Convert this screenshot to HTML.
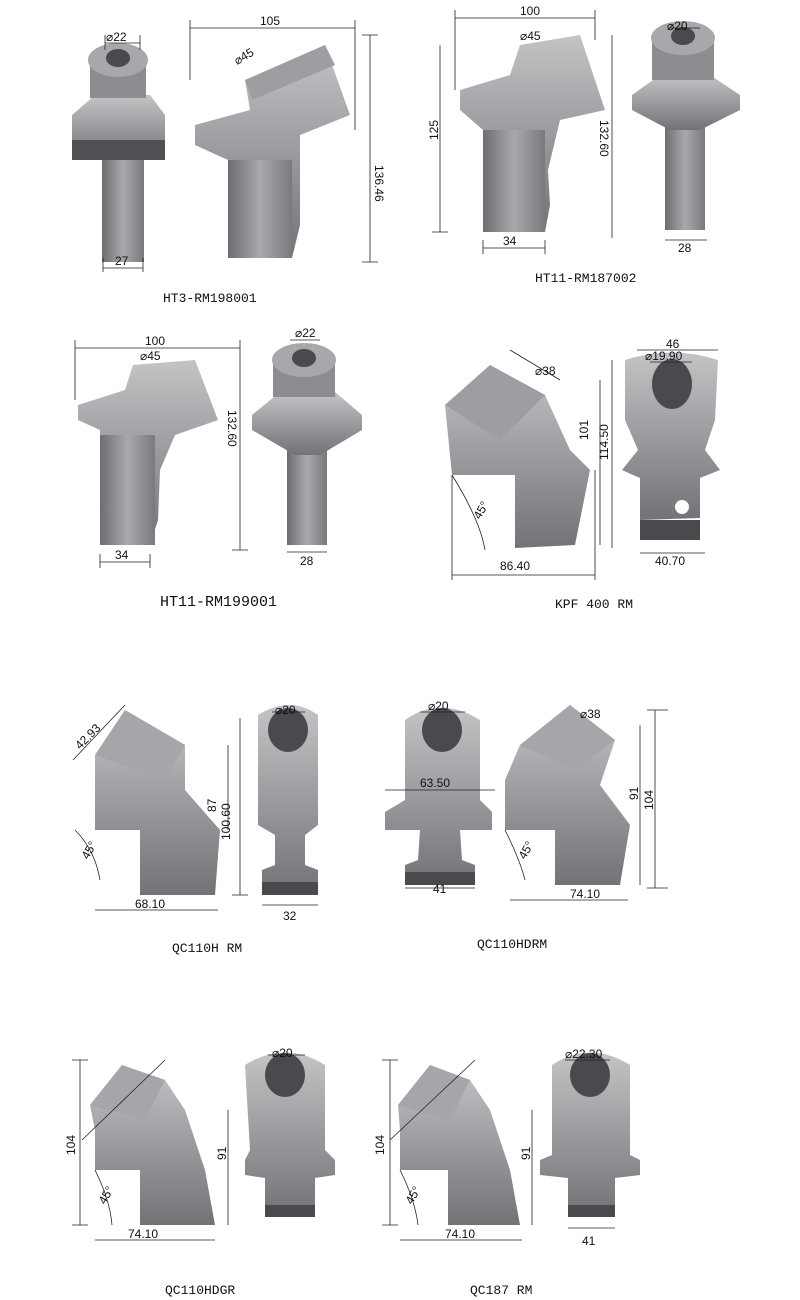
<!DOCTYPE html>
<html><head><meta charset="utf-8"><style>
body{margin:0;background:#fff}
svg{display:block}
text{font-family:"Liberation Sans",sans-serif;fill:#111}
.l{font-family:"Liberation Mono",monospace;font-size:13px}
.d{font-size:12px}
.dim{stroke:#222;stroke-width:0.8;fill:none}
</style></head><body>
<svg width="800" height="1300" viewBox="0 0 800 1300">
<defs>
<linearGradient id="g" x1="0" x2="1"><stop offset="0" stop-color="#6e6d72"/><stop offset=".5" stop-color="#a9a8ac"/><stop offset="1" stop-color="#7a797e"/></linearGradient>
<linearGradient id="gv" x1="0" y1="0" x2="0" y2="1"><stop offset="0" stop-color="#c4c3c6"/><stop offset="1" stop-color="#737277"/></linearGradient>
</defs>

<!-- HT3 front -->
<rect x="102" y="150" width="42" height="112" fill="url(#g)"/>
<path d="M72 115 L95 95 L150 95 L165 115 L165 160 L72 160Z" fill="url(#gv)"/>
<rect x="72" y="140" width="93" height="20" fill="#505055"/>
<rect x="90" y="62" width="56" height="36" fill="#8d8c91"/>
<ellipse cx="118" cy="60" rx="30" ry="17" fill="#a8a7ab"/>
<ellipse cx="118" cy="58" rx="12" ry="9" fill="#4a494e"/>
<path class="dim" d="M103 268H143M103 258V272M143 258V272M105 43H140M105 35V50M140 35V50"/>
<text class="d" x="115" y="265">27</text><text class="d" x="106" y="41">⌀22</text>
<text class="l" x="163" y="302">HT3-RM198001</text>

<!-- HT3 side -->
<path d="M195 125 L250 110 L245 80 L325 45 L350 115 L300 135 L300 225 L292 258 L228 258 L228 160 L195 145Z" fill="url(#gv)"/>
<path d="M245 80 L325 45 L335 65 L252 100Z" fill="#9e9da1"/>
<rect x="228" y="160" width="64" height="98" fill="url(#g)"/>
<path class="dim" d="M190 28H355M190 20V80M355 20V130M370 35V262M362 262H378M362 35H378"/>
<text class="d" x="260" y="25">105</text><text class="d" x="237" y="65" transform="rotate(-30 237 65)">⌀45</text>
<text class="d" x="375" y="165" transform="rotate(90 375 165)">136.46</text>

<!-- HT11-RM187002 side -->
<path d="M460 90 L510 75 L520 45 L580 35 L605 110 L560 120 L548 170 L550 205 L545 232 L483 232 L483 130 L460 110Z" fill="url(#gv)"/>
<rect x="483" y="130" width="62" height="102" fill="url(#g)"/>
<path class="dim" d="M455 18H595M455 10V90M595 10V40M440 45V232M432 232H448M612 35V238M483 248H545M483 240V254M545 240V254"/>
<text class="d" x="520" y="15">100</text><text class="d" x="520" y="40">⌀45</text>
<text class="d" x="438" y="140" transform="rotate(-90 438 140)">125</text>
<text class="d" x="600" y="120" transform="rotate(90 600 120)">132.60</text>
<text class="d" x="503" y="245">34</text>
<!-- front -->
<rect x="665" y="115" width="40" height="115" fill="url(#g)"/>
<path d="M632 95 L660 75 L710 75 L740 95 L740 110 L700 130 L670 130 L632 110Z" fill="url(#gv)"/>
<rect x="652" y="40" width="62" height="40" fill="#8d8c91"/>
<ellipse cx="683" cy="38" rx="32" ry="17" fill="#a8a7ab"/><ellipse cx="683" cy="36" rx="12" ry="9" fill="#4a494e"/>
<path class="dim" d="M665 240H707M670 28H700"/><text class="d" x="678" y="252">28</text><text class="d" x="667" y="30">⌀20</text>
<text class="l" x="535" y="282">HT11-RM187002</text>

<!-- HT11-RM199001 -->
<path d="M78 405 L125 390 L133 365 L195 360 L218 420 L175 435 L160 470 L158 520 L150 545 L100 545 L100 430 L78 420Z" fill="url(#gv)"/>
<rect x="100" y="435" width="55" height="110" fill="url(#g)"/>
<path class="dim" d="M75 348H240M75 340V400M240 340V420M240 360V550M232 550H248M100 562H150M100 554V568M150 554V568"/>
<text class="d" x="145" y="345">100</text><text class="d" x="140" y="360">⌀45</text>
<text class="d" x="228" y="410" transform="rotate(90 228 410)">132.60</text><text class="d" x="115" y="559">34</text>
<rect x="287" y="420" width="40" height="125" fill="url(#g)"/>
<path d="M252 415 L280 392 L335 392 L362 415 L362 430 L320 455 L295 455 L252 430Z" fill="url(#gv)"/>
<rect x="273" y="362" width="62" height="35" fill="#8d8c91"/>
<ellipse cx="304" cy="360" rx="32" ry="17" fill="#a8a7ab"/><ellipse cx="304" cy="358" rx="12" ry="9" fill="#4a494e"/>
<path class="dim" d="M287 552H327M290 340H320"/><text class="d" x="300" y="565">28</text><text class="d" x="295" y="337">⌀22</text>
<text class="l" x="160" y="606" style="font-size:15px">HT11-RM199001</text>

<!-- KPF 400 RM -->
<path d="M445 405 L490 365 L545 395 L570 450 L590 470 L575 545 L515 548 L515 475 L452 475Z" fill="url(#gv)"/>
<path d="M445 405 L490 365 L545 395 L500 440Z" fill="#9e9da1"/>
<path class="dim" d="M510 350L560 380M452 575H595M452 475V580M595 470V580M600 380V545M612 360V548M452 475Q480 520 485 550"/>
<text class="d" x="535" y="375">⌀38</text><text class="d" x="500" y="570">86.40</text>
<text class="d" x="588" y="440" transform="rotate(-90 588 440)">101</text>
<text class="d" x="608" y="460" transform="rotate(-90 608 460)">114.50</text>
<text class="d" x="480" y="520" transform="rotate(-60 480 520)">45°</text>
<path d="M625 360 Q672 345 718 360 L715 420 L705 450 L720 470 L700 478 L700 518 L640 520 L640 478 L622 470 L638 450 L625 420Z" fill="url(#gv)"/>
<rect x="640" y="520" width="60" height="20" fill="#4a494e"/>
<ellipse cx="672" cy="384" rx="20" ry="25" fill="#4a494e"/><circle cx="682" cy="507" r="7" fill="#fff"/>
<path class="dim" d="M637 350H718M650 362H692M640 553H705"/>
<text class="d" x="666" y="348">46</text><text class="d" x="645" y="360">⌀19.90</text><text class="d" x="655" y="565">40.70</text>
<text class="l" x="555" y="608">KPF 400 RM</text>

<!-- QC110H RM -->
<path d="M95 785 L95 755 L125 710 L185 745 L185 790 L220 830 L215 895 L140 895 L140 830 L95 830Z" fill="url(#gv)"/>
<path d="M95 755 L125 710 L185 745 L165 780Z" fill="#a6a5a9"/>
<path class="dim" d="M73 760L125 705M95 910H218M240 718V895M232 895H248M228 745V830M75 830Q95 850 100 880"/>
<text class="d" x="80" y="750" transform="rotate(-45 80 750)">42.93</text>
<text class="d" x="135" y="908">68.10</text><text class="d" x="216" y="812" transform="rotate(-90 216 812)">87</text>
<text class="d" x="230" y="840" transform="rotate(-90 230 840)">100.60</text>
<text class="d" x="88" y="860" transform="rotate(-60 88 860)">45°</text>
<path d="M258 715 Q290 695 318 715 L318 825 L305 835 L305 865 L318 870 L318 895 L262 895 L262 870 L275 865 L275 835 L258 825Z" fill="url(#gv)"/>
<ellipse cx="288" cy="730" rx="20" ry="22" fill="#4a494e"/><rect x="262" y="882" width="56" height="13" fill="#4a494e"/>
<path class="dim" d="M262 905H318M272 712H305"/><text class="d" x="283" y="920">32</text><text class="d" x="275" y="714">⌀20</text>
<text class="l" x="172" y="952">QC110H RM</text>

<!-- QC110HDRM -->
<path d="M405 720 Q440 695 480 720 L480 800 L492 812 L492 830 L460 830 L462 860 L475 865 L475 885 L405 885 L405 865 L418 860 L420 830 L385 830 L385 812 L405 800Z" fill="url(#gv)"/>
<ellipse cx="442" cy="730" rx="20" ry="22" fill="#4a494e"/><rect x="405" y="872" width="70" height="13" fill="#4a494e"/>
<path class="dim" d="M385 790H495M420 712H465M405 888H475"/>
<text class="d" x="420" y="787">63.50</text><text class="d" x="428" y="710">⌀20</text><text class="d" x="433" y="893">41</text>
<path d="M505 780 L520 745 L570 705 L615 740 L600 785 L630 825 L620 885 L555 885 L555 830 L505 830Z" fill="url(#gv)"/>
<path d="M520 745 L570 705 L615 740 L575 770Z" fill="#a6a5a9"/>
<path class="dim" d="M510 900H628M640 725V885M655 710V888M647 710H668M647 888H668M505 830Q520 860 525 880"/>
<text class="d" x="570" y="898">74.10</text><text class="d" x="580" y="718">⌀38</text>
<text class="d" x="638" y="800" transform="rotate(-90 638 800)">91</text>
<text class="d" x="653" y="810" transform="rotate(-90 653 810)">104</text>
<text class="d" x="525" y="860" transform="rotate(-60 525 860)">45°</text>
<text class="l" x="477" y="948">QC110HDRM</text>

<!-- QC110HDGR -->
<path d="M95 1130 L90 1105 L122 1065 L165 1080 L185 1110 L205 1170 L215 1225 L140 1225 L140 1170 L95 1170Z" fill="url(#gv)"/>
<path d="M90 1105 L122 1065 L165 1080 L145 1120Z" fill="#a6a5a9"/>
<path class="dim" d="M80 1060V1225M72 1060H88M72 1225H88M95 1240H215M228 1110V1225M82 1140L165 1060M95 1170Q110 1200 112 1225"/>
<text class="d" x="75" y="1155" transform="rotate(-90 75 1155)">104</text>
<text class="d" x="128" y="1238">74.10</text><text class="d" x="226" y="1160" transform="rotate(-90 226 1160)">91</text>
<text class="d" x="105" y="1205" transform="rotate(-60 105 1205)">45°</text>
<path d="M245 1065 Q285 1040 325 1065 L325 1150 L335 1160 L335 1175 L315 1178 L315 1215 L265 1215 L265 1178 L245 1175 L245 1160 L250 1150Z" fill="url(#gv)"/>
<ellipse cx="285" cy="1075" rx="20" ry="22" fill="#4a494e"/><rect x="265" y="1205" width="50" height="12" fill="#4a494e"/>
<path class="dim" d="M268 1055H305"/><text class="d" x="272" y="1057">⌀20</text>
<text class="l" x="165" y="1294">QC110HDGR</text>

<!-- QC187 RM -->
<path d="M400 1130 L398 1105 L430 1065 L470 1080 L490 1110 L510 1170 L520 1225 L448 1225 L448 1170 L400 1170Z" fill="url(#gv)"/>
<path d="M398 1105 L430 1065 L470 1080 L450 1120Z" fill="#a6a5a9"/>
<path class="dim" d="M390 1060V1225M382 1060H398M382 1225H398M400 1240H522M532 1110V1225M390 1140L475 1060M400 1170Q415 1200 418 1225"/>
<text class="d" x="384" y="1155" transform="rotate(-90 384 1155)">104</text>
<text class="d" x="445" y="1238">74.10</text><text class="d" x="530" y="1160" transform="rotate(-90 530 1160)">91</text>
<text class="d" x="412" y="1205" transform="rotate(-60 412 1205)">45°</text>
<path d="M552 1065 Q590 1040 630 1065 L630 1155 L640 1160 L640 1175 L615 1178 L615 1215 L568 1215 L568 1178 L540 1175 L540 1160 L552 1155Z" fill="url(#gv)"/>
<ellipse cx="590" cy="1075" rx="20" ry="22" fill="#4a494e"/><rect x="568" y="1205" width="47" height="12" fill="#4a494e"/>
<path class="dim" d="M565 1060H610M568 1228H615"/><text class="d" x="565" y="1058">⌀22.30</text><text class="d" x="582" y="1245">41</text>
<text class="l" x="470" y="1294">QC187 RM</text>
</svg>
</body></html>
